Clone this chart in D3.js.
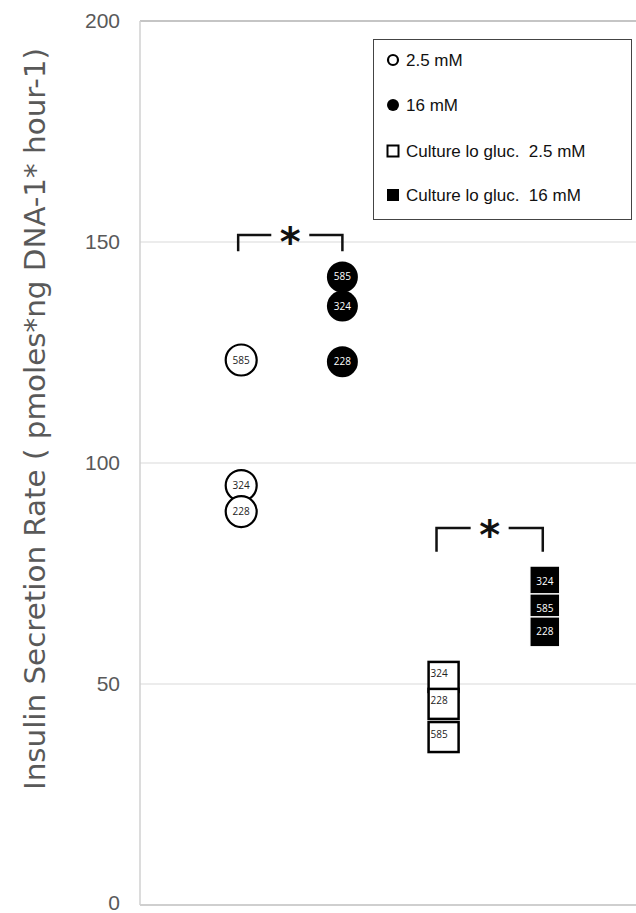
<!DOCTYPE html>
<html>
<head>
<meta charset="utf-8">
<script src="https://cdn.jsdelivr.net/npm/d3@7"></script>
<style>
  html, body { margin: 0; padding: 0; background: #fff; }
  svg { display: block; }
</style>
</head>
<body>
<svg id="chart" width="636" height="913"></svg>
<script>
// ---------- data ----------
const isletIds = ["585", "324", "228"];
const groupPositions = [1, 2, 3, 4];
const seriesNames = ["2.5 mM", "16 mM", "Culture lo gluc.  2.5 mM", "Culture lo gluc.  16 mM"];
const lowGlucose = [123.3, 94.9, 89.0];        // open circles
const highGlucose = [142.1, 135.5, 122.9];     // filled circles
const cultureLow = [38.0, 51.6, 45.5];         // open squares
const cultureHigh = [67.0, 73.3, 61.8];        // filled squares
const yTicks = [0, 50, 100, 150, 200];
const yTitle = "Insulin Secretion Rate ( pmoles*ng DNA-1* hour-1)";
const significance = [
  { from: 0.97, to: 2.0, y: 151.6, drop: 3.7 },
  { from: 2.93, to: 3.98, y: 85.3, drop: 5.4 }
];

// ---------- layout ----------
const svg = d3.select("#chart");
const plotLeft = 140, plotRight = 646, plotTop = 21, plotBottom = 905;
const x = d3.scaleLinear().domain([0, 5]).range([plotLeft, plotRight]);
const y = d3.scaleLinear().domain([0, 200]).range([plotBottom, plotTop]);
const grey = "#595959";

// gridlines
svg.append("g").selectAll("line").data(yTicks.filter(t => t > 0 && t < 200)).join("line")
  .attr("x1", plotLeft).attr("x2", 636)
  .attr("y1", d => y(d)).attr("y2", d => y(d))
  .attr("stroke", "#d9d9d9").attr("stroke-width", 1);

// top border
svg.append("line").attr("x1", plotLeft).attr("x2", 636).attr("y1", y(200)).attr("y2", y(200))
  .attr("stroke", "#8c8c8c").attr("stroke-width", 1.2);
// left axis line
svg.append("line").attr("x1", plotLeft).attr("x2", plotLeft).attr("y1", y(200)).attr("y2", y(0))
  .attr("stroke", "#d0d0d0").attr("stroke-width", 1.5);
// bottom axis line
svg.append("line").attr("x1", plotLeft).attr("x2", 636).attr("y1", y(0)).attr("y2", y(0))
  .attr("stroke", "#cfcfcf").attr("stroke-width", 2);

// y axis tick labels via d3 axis
const yAxis = d3.axisLeft(y).tickValues(yTicks).tickSize(0).tickPadding(20);
const gy = svg.append("g").attr("transform", `translate(${plotLeft},0)`).call(yAxis);
gy.select(".domain").remove();
gy.selectAll("text").attr("font-family", "Liberation Sans, Arial, sans-serif")
  .attr("font-size", 21).attr("fill", grey)
  .attr("dy", d => d === 0 ? "0.2em" : "0.32em");

// y title
svg.append("text")
  .attr("transform", `translate(45,${(48 + 790) / 2}) rotate(-90)`)
  .attr("text-anchor", "middle")
  .attr("font-family", "'Liberation Sans Narrow', 'DejaVu Sans Condensed', 'Roboto Condensed', sans-serif")
  .attr("font-size", 28).attr("fill", grey)
  .attr("textLength", 742).attr("lengthAdjust", "spacingAndGlyphs")
  .text(yTitle);

const r = 15.5, sq = 30;
const labelFont = "'Open Sans', 'Liberation Sans', sans-serif";

// open circles
const g1 = svg.append("g");
isletIds.map((id, i) => ({ id, v: lowGlucose[i] })).forEach(d => {
  g1.append("circle").attr("cx", x(groupPositions[0])).attr("cy", y(d.v)).attr("r", r)
    .attr("fill", "#fff").attr("stroke", "#000").attr("stroke-width", 2.2);
  g1.append("text").attr("x", x(groupPositions[0])).attr("y", y(d.v)).attr("dy", "0.35em")
    .attr("text-anchor", "middle").attr("font-family", labelFont).attr("font-size", 10)
    .attr("fill", "#222").text(d.id);
});

// filled circles
const g2 = svg.append("g");
isletIds.map((id, i) => ({ id, v: highGlucose[i] })).reverse().forEach(d => {
  g2.append("circle").attr("cx", x(groupPositions[1])).attr("cy", y(d.v)).attr("r", r)
    .attr("fill", "#000");
  g2.append("text").attr("x", x(groupPositions[1])).attr("y", y(d.v)).attr("dy", "0.35em")
    .attr("text-anchor", "middle").attr("font-family", labelFont).attr("font-size", 10)
    .attr("fill", "#fff").text(d.id);
});

// open squares
const g3 = svg.append("g");
isletIds.map((id, i) => ({ id, v: cultureLow[i] })).sort((a, b) => b.v - a.v).forEach(d => {
  const cx = x(groupPositions[2]), cy = y(d.v);
  g3.append("rect").attr("x", cx - sq / 2).attr("y", cy - sq / 2).attr("width", sq).attr("height", sq)
    .attr("fill", "#fff").attr("stroke", "#000").attr("stroke-width", 2.5);
  g3.append("text").attr("x", cx - sq / 2 + 2).attr("y", cy - 3).attr("dy", "0.35em")
    .attr("font-family", labelFont).attr("font-size", 10).attr("fill", "#222").text(d.id);
});

// filled squares
const g4 = svg.append("g");
isletIds.map((id, i) => ({ id, v: cultureHigh[i] })).sort((a, b) => b.v - a.v).forEach(d => {
  const cx = x(groupPositions[3]), cy = y(d.v);
  g4.append("rect").attr("x", cx - sq / 2).attr("y", cy - sq / 2).attr("width", sq).attr("height", sq)
    .attr("fill", "#000").attr("stroke", "#fff").attr("stroke-width", 1.5);
  g4.append("text").attr("x", cx).attr("y", cy).attr("dy", "0.35em").attr("text-anchor", "middle")
    .attr("font-family", labelFont).attr("font-size", 10).attr("fill", "#fff").text(d.id);
});

// significance brackets
significance.forEach(s => {
  const x1 = x(s.from), x2 = x(s.to), yt = y(s.y), yb = y(s.y - s.drop);
  const xm = (x1 + x2) / 2;
  const gap = 19;
  svg.append("path")
    .attr("d", `M${x1},${yb} L${x1},${yt} L${xm - gap},${yt} M${xm + gap},${yt} L${x2},${yt} L${x2},${yb}`)
    .attr("fill", "none").attr("stroke", "#111").attr("stroke-width", 2.5);
  svg.append("text").attr("x", xm).attr("y", yt + 21).attr("text-anchor", "middle")
    .attr("font-family", "'DejaVu Sans', sans-serif").attr("font-size", 40).attr("font-weight", "bold")
    .attr("fill", "#111").text("*");
});

// legend
const lg = svg.append("g");
lg.append("rect").attr("x", 373.5).attr("y", 39.5).attr("width", 258).attr("height", 180)
  .attr("fill", "#fff").attr("stroke", "#444").attr("stroke-width", 1);
const rowY = [60, 105, 151, 195];
seriesNames.forEach((name, i) => {
  const my = rowY[i], mx = 393;
  if (i === 0) lg.append("circle").attr("cx", mx).attr("cy", my).attr("r", 5).attr("fill", "#fff").attr("stroke", "#000").attr("stroke-width", 2.2);
  if (i === 1) lg.append("circle").attr("cx", mx).attr("cy", my).attr("r", 6).attr("fill", "#000");
  if (i === 2) lg.append("rect").attr("x", mx - 5.5).attr("y", my - 5.5).attr("width", 11).attr("height", 11).attr("fill", "#fff").attr("stroke", "#000").attr("stroke-width", 2);
  if (i === 3) lg.append("rect").attr("x", mx - 6).attr("y", my - 6).attr("width", 12).attr("height", 12).attr("fill", "#000");
  lg.append("text").attr("x", 406).attr("y", my).attr("dy", "0.35em")
    .attr("font-family", "Liberation Sans, Arial, sans-serif").attr("font-size", 17)
    .style("white-space", "pre").attr("xml:space", "preserve")
    .attr("fill", "#111").text(name);
});
</script>
</body>
</html>
